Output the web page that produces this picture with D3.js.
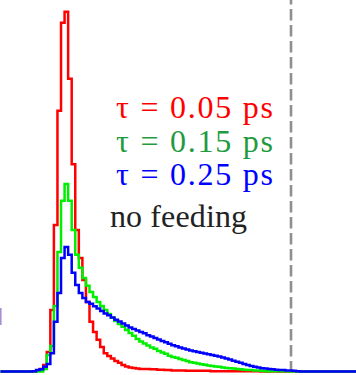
<!DOCTYPE html>
<html>
<head>
<meta charset="utf-8">
<script src="https://cdn.jsdelivr.net/npm/d3@7"></script>
<style>
  html, body { margin: 0; padding: 0; background: #fff; }
  svg { display: block; }
</style>
</head>
<body>
<svg id="chart" width="356" height="375"></svg>
<script>
// Arrival-time histograms (100 channels) for three feeding times, normalised to 1000 at the tallest bin.
const channels = d3.range(100);

const tau005 = [
  0,0,0,0,0,0,0,0,0,0, 3,7,18,54,171,407,724,969,999,813,
  576,393,315,254,193,138,110,88,68,51, 43,36,29,24,18,14,11,10,8,7,
  7,7,6,6,5,5,4,4,3,3, 3,3,2,2,2,2,2,2,2,1,
  1,1,1,1,1,1,1,1,1,1, 1,1,1,0,0,0,0,0,0,0,
  0,0,0,0,0,0,0,0,0,0, 0,0,0,0,0,0,0,0,0,0
];

const tau015 = [
  0,0,0,0,0,0,0,0,0,0, 0,0,7,46,71,182,332,474,521,474,
  393,324,288,260,238,221,207,193,182,171, 160,149,140,132,124,115,107,99,90,83,
  78,72,67,63,57,53,49,44,40,38, 35,32,29,26,24,22,20,19,17,15,
  14,13,11,10,9,8,7,6,5,4, 4,3,3,2,1,1,1,1,1,1,
  1,0,0,0,0,0,0,0,0,0, 0,0,0,0,0,0,0,0,0,0
];

const tau025 = [
  0,0,0,0,0,0,0,0,0,1, 4,6,13,21,51,138,218,315,346,324,
  274,240,218,204,193,188,181,175,168,161, 156,150,144,139,133,128,122,118,114,110,
  106,101,97,93,89,85,81,77,73,70, 67,64,61,58,56,54,52,50,48,46,
  44,42,39,36,33,30,27,24,21,18, 15,13,11,9,8,7,6,5,4,4,
  3,3,2,1,0,0,0,0,0,0, 0,0,0,0,0,0,0,0,0,0
];

const seriesLabels = ["τ = 0.05 ps", "τ = 0.15 ps", "τ = 0.25 ps"];
const noteLabel = "no feeding";
const cutoffChannel = 81.6;   // position of the dashed marker

// ---- layout ----
const x = d3.scaleLinear().domain([0, 100]).range([0.5, 356.5]);
const y = d3.scaleLinear().domain([0, 1000]).range([371.5, 11.5]);

const svg = d3.select("#chart");

const lineColors = ["#ff0000", "#00ee00", "#0000ff"];
const textColors = ["#ff0000", "#1f9b40", "#0000ff"];
const serif = "Liberation Serif";

// Vertical dashed marker
svg.append("line")
  .attr("x1", x(cutoffChannel)).attr("x2", x(cutoffChannel))
  .attr("y1", 0).attr("y2", 374)
  .attr("stroke", "#8f8f8f")
  .attr("stroke-width", 2.6)
  .attr("stroke-dasharray", "11.5,4.5")
  .attr("stroke-dashoffset", 7);

// Step outline for a histogram
const step = d3.line()
  .x(d => x(d[0]))
  .y(d => y(d[1]))
  .curve(d3.curveStepAfter);

function histPoints(values) {
  const pts = channels.map(i => [i, values[i]]);
  pts.push([100, values[values.length - 1]]);
  return pts;
}

[tau005, tau015, tau025].forEach((vals, i) => {
  svg.append("path")
    .attr("d", step(histPoints(vals)))
    .attr("fill", "none")
    .attr("stroke", lineColors[i])
    .attr("stroke-width", 2.5)
    .attr("stroke-linejoin", "miter");
});

// Partial glyph at the left edge
svg.append("rect")
  .attr("x", 0).attr("y", 308)
  .attr("width", 1.6).attr("height", 17)
  .attr("fill", "#a990d6");

// Legend text
const legendY = [117.5, 151.5, 185];
seriesLabels.forEach((t, i) => {
  svg.append("text")
    .attr("x", 116)
    .attr("y", legendY[i])
    .attr("fill", textColors[i])
    .style("font-family", serif)
    .style("font-size", "32px")
    .attr("textLength", 157)
    .attr("lengthAdjust", "spacing")
    .text(t);
});

svg.append("text")
  .attr("x", 110)
  .attr("y", 227)
  .attr("fill", "#222")
  .style("font-family", serif)
  .style("font-size", "32px")
  .attr("textLength", 137)
  .attr("lengthAdjust", "spacing")
  .text(noteLabel);
</script>
</body>
</html>
